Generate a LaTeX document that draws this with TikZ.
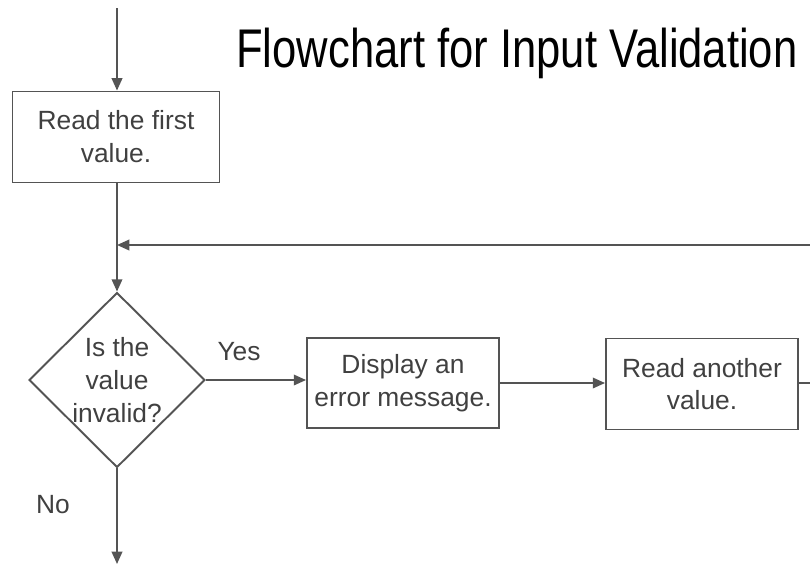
\documentclass[tikz,border=0pt]{standalone}
\usepackage{fontspec}
\setmainfont{Liberation Sans}
\newfontfamily\titlefont[FakeStretch=0.80]{Liberation Sans}
\usetikzlibrary{arrows.meta,shapes.geometric}
\definecolor{LineClr}{rgb}{0.33,0.33,0.33}
\definecolor{TextClr}{rgb}{0.25,0.25,0.25}

\tikzset{
  boxtext/.style={text=TextClr,align=center,font=\fontsize{15}{18.7}\selectfont},
  process/.style={boxtext,draw=LineClr,line width=1.1pt,inner sep=0pt},
  decision/.style={diamond,draw=LineClr,line width=1.1pt,inner sep=0pt,
    minimum width=3.52cm,minimum height=3.5cm},
  line/.style={draw=LineClr,line width=1.1pt},
  flow/.style={line,-{Triangle[length=7pt,width=6pt]}}
}

\begin{document}
\begin{tikzpicture}[x=0.02cm,y=-0.02cm]
\useasboundingbox (0,0) rectangle (810,565);

\node[anchor=base west,inner sep=0pt,font=\titlefont\fontsize{31}{36}\selectfont] (title) at (236,67) {Flowchart for Input Validation};

\node[process,minimum width=4.14cm,minimum height=1.82cm] (read1) at (116,137) {Read the first\\value.};
\node[decision,label={[boxtext]center:Is the\\value\\invalid?}] (check) at (117,380) {};
\node[process,minimum width=3.84cm,minimum height=1.8cm] (errmsg) at (403,383) {Display an\\error message.};
\node[process,minimum width=3.84cm,minimum height=1.82cm] (read2) at (702,384) {Read another\\value.};

\node[boxtext] (yes) at (239,352) {Yes};
\node[boxtext] (no) at (53,505) {No};

% free ends
\coordinate (start) at (117,8);
\coordinate (join) at (117,245);
\coordinate (loopR) at (810,245);
\coordinate (exitR) at (810,383);
\coordinate (stop) at (117,564);

\draw[flow] (start) -- (read1.north -| start);
\draw[line] (read1.south -| start) -- (join);
\draw[flow] (join) -- (check.north);
\draw[flow] (loopR) -- (join);
\draw[flow] (check.east) -- (errmsg.west |- check.east);
\draw[flow] (errmsg.east) -- (read2.west |- errmsg.east);
\draw[line] (read2.east |- exitR) -- (exitR);
\draw[flow] (check.south) -- (stop);

\end{tikzpicture}
\end{document}
